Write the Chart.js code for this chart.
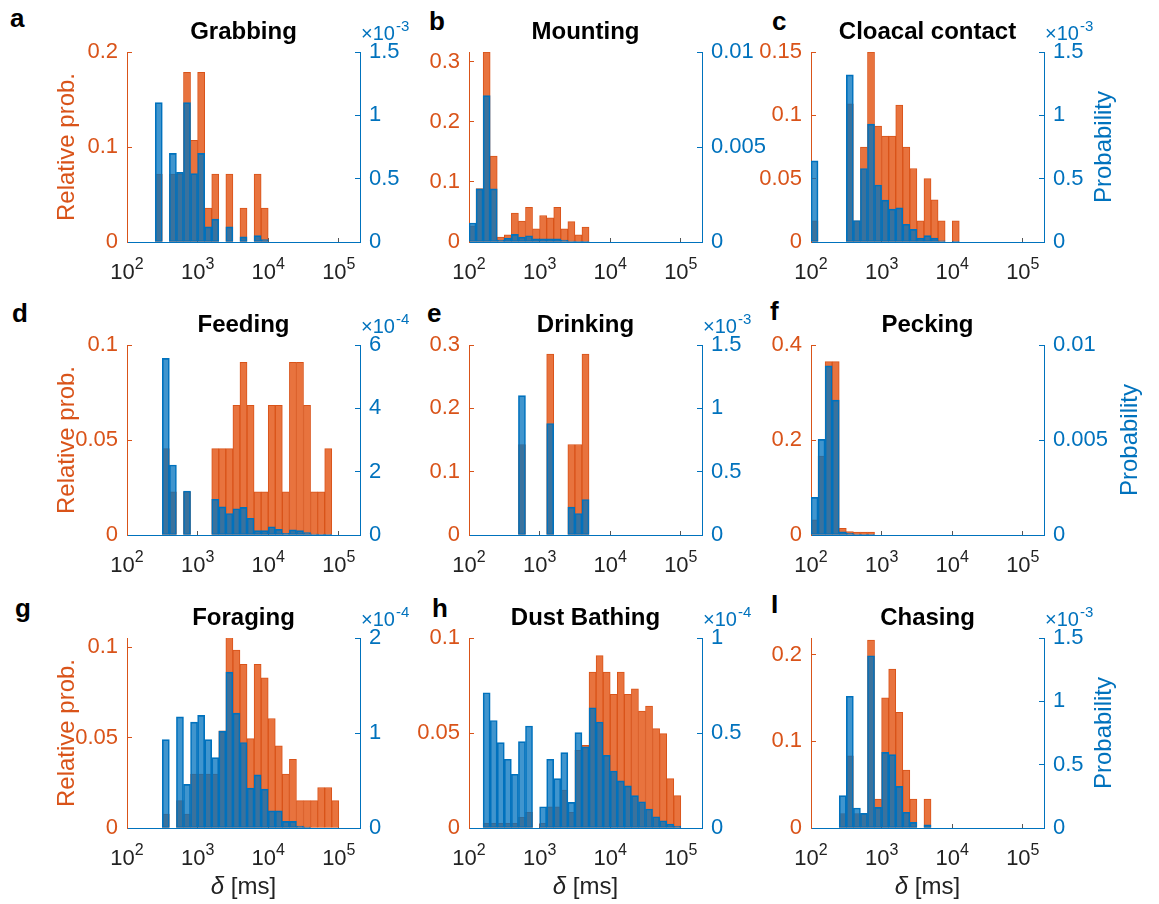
<!DOCTYPE html>
<html>
<head>
<meta charset="utf-8">
<script src="https://cdn.jsdelivr.net/npm/chart.js@4.4.1/dist/chart.umd.min.js"></script>
<style>
  body { margin: 0; background: #fff; width: 1159px; height: 904px; position: relative; overflow: hidden; font-family: "Liberation Sans", Arial, Helvetica, sans-serif; }
  canvas.panel { position: absolute; }
  .letter { position: absolute; font-weight: bold; font-size: 26px; line-height: 1; color: #000; }
</style>
</head>
<body>
<div class="letter" style="left:10px;top:5px">a</div>
<div class="letter" style="left:429px;top:8px">b</div>
<div class="letter" style="left:772px;top:8px">c</div>
<div class="letter" style="left:12px;top:300px">d</div>
<div class="letter" style="left:427px;top:300px">e</div>
<div class="letter" style="left:770px;top:298px">f</div>
<div class="letter" style="left:15px;top:595px">g</div>
<div class="letter" style="left:432px;top:595px">h</div>
<div class="letter" style="left:771px;top:591px">I</div>

<script>
// Bin centres in log10(delta / ms): 0.1-decade bins from 10^2 to 10^5.3
const binCenters = [2.05, 2.15, 2.25, 2.35, 2.45, 2.55, 2.65, 2.75, 2.85, 2.95,
  3.05, 3.15, 3.25, 3.35, 3.45, 3.55, 3.65, 3.75, 3.85, 3.95,
  4.05, 4.15, 4.25, 4.35, 4.45, 4.55, 4.65, 4.75, 4.85, 4.95,
  5.05, 5.15, 5.25];
const xTicks = [2, 3, 4, 5];
const xTickBase = "10";
const xTickExponents = ["2", "3", "4", "5"];

const titles = ["Grabbing", "Mounting", "Cloacal contact", "Feeding", "Drinking", "Pecking", "Foraging", "Dust Bathing", "Chasing"];

// Relative prob. (orange, left axis)
const grabbingRel = [0,0,0,0,0.0714,0,0.0714,0.0714,0.1786,0.1071,0.1786,0.0357,0.0714,0,0.0714,0,0.0357,0,0.0714,0.0357,0,0,0,0,0,0,0,0,0,0,0,0,0];
const mountingRel = [0.027,0.089,0.316,0.143,0.008,0.012,0.048,0.035,0.0575,0.022,0.044,0.040,0.0575,0.022,0.034,0.012,0.025,0,0,0,0,0,0,0,0,0,0,0,0,0,0,0,0];
const cloacalRel = [0.0167,0,0,0,0,0.109,0.0167,0.075,0.15,0.0915,0.0837,0.0837,0.108,0.075,0.058,0.0167,0.05,0.0333,0.0167,0,0.0167,0,0,0,0,0,0,0,0,0,0,0,0];
const feedingRel = [0,0,0,0,0,0.0455,0.0227,0,0.0227,0,0,0,0.0455,0.0455,0.0455,0.0682,0.0909,0.0682,0.0227,0.0227,0.0682,0.0682,0.0227,0.0909,0.0909,0.0682,0.0227,0.0227,0.0455,0,0,0,0];
const drinkingRel = [0,0,0,0,0,0,0,0.1429,0,0,0,0.2857,0,0,0.1429,0.1429,0.2857,0,0,0,0,0,0,0,0,0,0,0,0,0,0,0,0];
const peckingRel = [0.032,0.166,0.365,0.365,0.014,0.007,0.006,0.006,0.006,0,0,0,0,0,0,0,0,0,0,0,0,0,0,0,0,0,0,0,0,0,0,0,0];
const foragingRel = [0,0,0,0,0,0.0077,0,0.0151,0.0077,0.0298,0.0298,0.0298,0.0298,0.0537,0.1057,0.0983,0.0904,0.0494,0.0904,0.083,0.0605,0.0454,0.0298,0.038,0.0151,0.0151,0.0151,0.0224,0.0224,0.0151,0,0,0];
const dustRel = [0,0,0.0024,0.0024,0.0024,0.0024,0.0024,0.0056,0.0082,0,0.0024,0.0112,0.0112,0.020,0.0082,0.0409,0.0435,0.082,0.0907,0.082,0.0703,0.082,0.0703,0.0733,0.0615,0.0642,0.0523,0.0497,0.026,0.017,0,0,0];
const chasingRel = [0,0,0,0,0.0167,0.0833,0.0167,0.0167,0.2167,0.0333,0.15,0.1833,0.1333,0.0667,0.0333,0,0.0333,0,0,0,0,0,0,0,0,0,0,0,0,0,0,0,0];

// Probability (blue, right axis), in units of the axis multiplier
const grabbingProb = [0,0,0,0,1.10,0,0.70,0.55,1.10,0.54,0.70,0.12,0.18,0,0.12,0,0.04,0,0.05,0.02,0,0,0,0,0,0,0,0,0,0,0,0,0];
const mountingProb = [0.0010,0.0028,0.0077,0.0028,0.0001,0.0002,0.0004,0.00026,0.00033,0.00017,0.00017,0.00017,0.00017,0.0001,0.00005,0.00003,0.00002,0,0,0,0,0,0,0,0,0,0,0,0,0,0,0,0];
const cloacalProb = [0.64,0,0,0,0,1.32,0.17,0.58,0.93,0.45,0.33,0.26,0.27,0.14,0.10,0.03,0.05,0.03,0.01,0,0.005,0,0,0,0,0,0,0,0,0,0,0,0];
const feedingProb = [0,0,0,0,0,5.58,2.21,0,1.39,0,0,0,1.13,0.89,0.68,0.83,0.87,0.53,0.14,0.14,0.26,0.18,0.05,0.16,0.14,0.08,0.03,0.02,0.01,0,0,0,0];
const drinkingProb = [0,0,0,0,0,0,0,1.10,0,0,0,0.88,0,0,0.22,0.17,0.28,0,0,0,0,0,0,0,0,0,0,0,0,0,0,0,0];
const peckingProb = [0.00198,0.00503,0.0089,0.0071,0.00017,0.0001,0.00005,0.00003,0.00002,0,0,0,0,0,0,0,0,0,0,0,0,0,0,0,0,0,0,0,0,0,0,0,0];
const foragingProb = [0,0,0,0,0,0.93,0,1.17,0.46,1.115,1.185,0.93,0.74,1.02,1.64,1.21,0.90,0.42,0.56,0.41,0.18,0.18,0.07,0.07,0.02,0.01,0,0,0,0,0,0,0];
const dustProb = [0,0,0.712,0.566,0.449,0.362,0.283,0.455,0.537,0,0.112,0.362,0.26,0.397,0.135,0.502,0.427,0.633,0.558,0.383,0.30,0.248,0.222,0.17,0.138,0.10,0.059,0.038,0.021,0.01,0,0,0];
const chasingProb = [0,0,0,0,0.255,1.04,0.158,0.116,1.36,0.163,0.597,0.579,0.329,0.124,0.045,0,0.026,0,0,0,0,0,0,0,0,0,0,0,0,0,0,0,0];

// Axis limits and ticks per panel
const leftMax = [0.2, 0.316, 0.15, 0.1, 0.3, 0.4, 0.105, 0.1, 0.219];
const leftTicks = [[0, 0.1, 0.2], [0, 0.1, 0.2, 0.3], [0, 0.05, 0.1, 0.15], [0, 0.05, 0.1], [0, 0.1, 0.2, 0.3], [0, 0.2, 0.4], [0, 0.05, 0.1], [0, 0.05, 0.1], [0, 0.1, 0.2]];
const rightMax = [1.5, 0.01, 1.5, 6, 1.5, 0.01, 2, 1, 1.5];
const rightTicks = [[0, 0.5, 1, 1.5], [0, 0.005, 0.01], [0, 0.5, 1, 1.5], [0, 2, 4, 6], [0, 0.5, 1, 1.5], [0, 0.005, 0.01], [0, 1, 2], [0, 0.5, 1], [0, 0.5, 1, 1.5]];
const rightExponent = ["-3", null, "-3", "-4", "-3", null, "-4", "-4", "-3"];

const relSeries = [grabbingRel, mountingRel, cloacalRel, feedingRel, drinkingRel, peckingRel, foragingRel, dustRel, chasingRel];
const probSeries = [grabbingProb, mountingProb, cloacalProb, feedingProb, drinkingProb, peckingProb, foragingProb, dustProb, chasingProb];

// Layout
const FONT = "'Liberation Sans', Arial, Helvetica, sans-serif";
const ORANGE = "#D95319";
const ORANGE_FILL = "#E8733E";
const BLUE = "#0072BD";
const BLUE_FILL = "rgba(0, 114, 189, 0.75)";
const PAD_L = 100, PAD_R = 100, PAD_T = 50, PAD_B = 80;
const PLOT_W = 233, PLOT_H = 190;
const plotLefts = [127, 469, 811];
const plotTops = [52, 345, 638];
// distance of the "Probability" label from the right axis, per row
const probTitleOffset = [60, 86, 60];

Chart.defaults.font.family = FONT;
Chart.defaults.color = "#222";

// Extra labels: x tick labels with superscripts, x10^n multiplier, axis titles
const panelText = {
  id: "panelText",
  afterDraw(chart, args, opts) {
    const { ctx, chartArea: a } = chart;
    const xs = chart.scales.x;
    ctx.save();
    ctx.textBaseline = "alphabetic";
    ctx.textAlign = "left";

    // 10^n tick labels
    ctx.fillStyle = "#222";
    xTicks.forEach((v, k) => {
      ctx.font = "22px " + FONT;
      const wb = ctx.measureText(xTickBase).width;
      ctx.font = "16px " + FONT;
      const we = ctx.measureText(xTickExponents[k]).width;
      const x0 = xs.getPixelForValue(v) - (wb + we) / 2;
      const y = a.bottom + 37;
      ctx.font = "22px " + FONT;
      ctx.fillText(xTickBase, x0, y);
      ctx.font = "16px " + FONT;
      ctx.fillText(xTickExponents[k], x0 + wb, y - 10);
    });

    if (opts.exponent) {
      ctx.fillStyle = BLUE;
      ctx.font = "20px " + FONT;
      const x = a.right + 1, y = a.top - 12;
      ctx.fillText("×10", x, y);
      const w = ctx.measureText("×10").width;
      ctx.font = "15px " + FONT;
      ctx.fillText(opts.exponent, x + w + 1, y - 9);
    }
    if (opts.rightTitle) {
      ctx.fillStyle = BLUE;
      ctx.font = "24px " + FONT;
      ctx.translate(a.right + opts.rightTitle, (a.top + a.bottom) / 2);
      ctx.rotate(-Math.PI / 2);
      ctx.textAlign = "center";
      ctx.textBaseline = "middle";
      ctx.fillText("Probability", 0, 0);
      ctx.setTransform(1, 0, 0, 1, 0, 0);
    }
    if (opts.xTitle) {
      ctx.fillStyle = "#222";
      ctx.textBaseline = "middle";
      ctx.textAlign = "left";
      ctx.font = "italic 24px " + FONT;
      const w1 = ctx.measureText("δ").width;
      ctx.font = "24px " + FONT;
      const w2 = ctx.measureText(" [ms]").width;
      const x0 = (a.left + a.right) / 2 - (w1 + w2) / 2;
      const y = a.bottom + 59;
      ctx.font = "italic 24px " + FONT;
      ctx.fillText("δ", x0, y);
      ctx.font = "24px " + FONT;
      ctx.fillText(" [ms]", x0 + w1, y);
    }
    ctx.restore();
  }
};

function toPoints(values) {
  return binCenters.map((x, k) => ({ x: x, y: values[k] }));
}

function makePanel(i) {
  const col = i % 3;
  const row = Math.floor(i / 3);
  const canvas = document.createElement("canvas");
  canvas.className = "panel";
  canvas.width = PAD_L + PLOT_W + PAD_R;
  canvas.height = PAD_T + PLOT_H + PAD_B;
  canvas.style.left = (plotLefts[col] - PAD_L) + "px";
  canvas.style.top = (plotTops[row] - PAD_T) + "px";
  document.body.appendChild(canvas);

  const barStyle = { borderWidth: 1, borderSkipped: false, grouped: false, barPercentage: 1, categoryPercentage: 1 };

  new Chart(canvas, {
    type: "bar",
    data: {
      datasets: [
        Object.assign({ label: "Probability", data: toPoints(probSeries[i]), yAxisID: "y2", backgroundColor: BLUE_FILL, borderColor: BLUE, order: 0 }, barStyle),
        Object.assign({ label: "Relative prob.", data: toPoints(relSeries[i]), yAxisID: "y", backgroundColor: ORANGE_FILL, borderColor: ORANGE, order: 1 }, barStyle)
      ]
    },
    options: {
      responsive: false,
      animation: false,
      layout: { padding: 0 },
      plugins: {
        legend: { display: false },
        tooltip: { enabled: false },
        title: {
          display: true,
          text: titles[i],
          color: "#000",
          font: { size: 24, weight: "bold", lineHeight: 1.2 },
          padding: { top: 16, bottom: 50 - 16 - 28.8 }
        },
        panelText: {
          exponent: rightExponent[i],
          rightTitle: col === 2 ? probTitleOffset[row] : 0,
          xTitle: row === 2
        }
      },
      scales: {
        x: {
          type: "linear",
          min: 2,
          max: 5.3,
          offset: false,
          afterBuildTicks: (s) => { s.ticks = xTicks.map(v => ({ value: v })); },
          afterFit: (s) => { s.height = PAD_B; },
          ticks: { display: false },
          grid: { display: true, offset: false, drawOnChartArea: false, drawTicks: true, tickLength: -4, color: "#555" },
          border: { display: true, color: BLUE, width: 1 }
        },
        y: {
          position: "left",
          min: 0,
          max: leftMax[i],
          afterBuildTicks: (s) => { s.ticks = leftTicks[i].map(v => ({ value: v })); },
          afterFit: (s) => { s.width = PAD_L; },
          ticks: { padding: 14, color: ORANGE, font: { size: 22 }, callback: (v) => String(v) },
          grid: { display: true, drawOnChartArea: false, drawTicks: true, tickLength: -5, color: ORANGE },
          border: { display: true, color: ORANGE, width: 1 },
          title: {
            display: col === 0,
            text: "Relative prob.",
            color: ORANGE,
            font: { size: 24, lineHeight: 1.2 },
            padding: { top: 26, bottom: 0 }
          }
        },
        y2: {
          position: "right",
          min: 0,
          max: rightMax[i],
          afterBuildTicks: (s) => { s.ticks = rightTicks[i].map(v => ({ value: v })); },
          afterFit: (s) => { s.width = PAD_R; },
          ticks: { padding: 14, color: BLUE, font: { size: 22 }, callback: (v) => String(v) },
          grid: { display: true, drawOnChartArea: false, drawTicks: true, tickLength: -5, color: BLUE },
          border: { display: true, color: BLUE, width: 1 }
        }
      }
    },
    plugins: [panelText]
  });
}

for (let i = 0; i < 9; i++) {
  makePanel(i);
}
</script>
</body>
</html>
